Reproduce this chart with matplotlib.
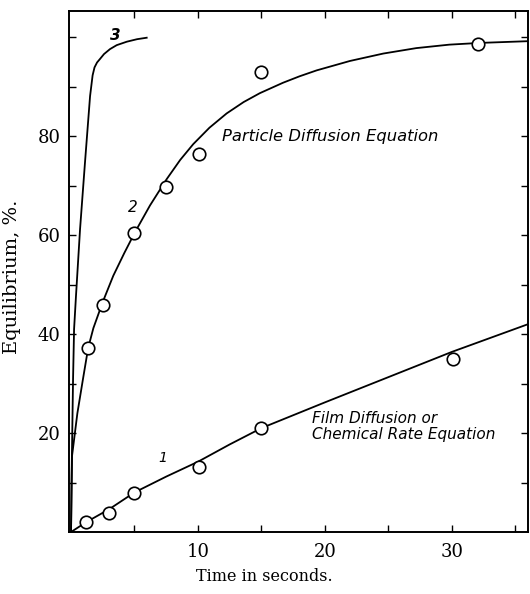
import matplotlib
matplotlib.use("Agg")
import matplotlib.pyplot as plt

# curve 1: film diffusion / chemical rate
t1_line = [0, 1.2, 3, 5, 7.5, 10, 12.5, 15, 20, 25, 30, 36]
e1_line = [0, 2.0, 4.6, 8.0, 11.2, 14.2, 17.7, 21.0, 26.2, 31.3, 36.4, 42.0]
t1_pts = [1.2, 3.0, 5.0, 10.1, 15.0, 30.1]
e1_pts = [2.0, 3.8, 7.9, 13.1, 21.0, 35.0]

# curve 2: particle diffusion
t2_line = [0, 0.04, 0.08, 0.5, 0.94, 1.35, 1.76, 2.5, 3.33, 4.2, 5.04, 6.22,
           7.53, 8.6, 9.63, 10.9, 12.26, 13.6, 14.88, 16.7, 18.0, 19.35,
           21.97, 24.6, 27.2, 29.8, 32.2, 36]
e2_line = [0, 8, 15.4, 24, 30.9, 37.2, 41.2, 46.5, 51.8, 56.4, 60.6, 66.0,
           71.3, 75.2, 78.4, 81.7, 84.6, 86.9, 88.7, 90.8, 92.1, 93.3,
           95.2, 96.7, 97.8, 98.5, 98.85, 99.2]
t2_pts = [1.35, 2.5, 5.0, 7.5, 10.1, 15.0, 32.1]
e2_pts = [37.2, 45.9, 60.4, 69.7, 76.4, 92.9, 98.6]

# curve 3
t3_line = [0, 0.05, 0.16, 0.24, 0.39, 0.71, 1.1, 1.5, 1.7, 1.85, 2.05, 2.28,
           2.6, 3.07, 3.6, 4.4, 5.2, 5.96]
e3_line = [0, 12, 31, 41, 47.7, 61.2, 74.7, 88.1, 92.3, 93.9, 94.9, 95.6,
           96.6, 97.6, 98.4, 99.1, 99.6, 99.9]

plt.rcParams['font.family'] = 'DejaVu Serif'

fig = plt.figure(figsize=(5.3, 5.94), dpi=100)
ax = fig.add_axes([69/530, 1 - 532/594, (528 - 69)/530, (532 - 11)/594])

for t, e in [(t1_line, e1_line), (t2_line, e2_line), (t3_line, e3_line)]:
    ax.plot(t, e, color='black', lw=1.3, solid_joinstyle='round')
ax.plot(t1_pts, e1_pts, 'o', ms=9, mfc='white', mec='black', mew=1.2)
ax.plot(t2_pts, e2_pts, 'o', ms=9, mfc='white', mec='black', mew=1.2)

ax.set_xlim(-0.16, 36)
ax.set_ylim(0, 105.3)

ax.set_xticks([10, 20, 30])
ax.set_xticks([5, 15, 25, 35], minor=True)
ax.set_yticks([20, 40, 60, 80])
ax.set_yticks([10, 30, 50, 70, 90, 100], minor=True)
ax.tick_params(which='both', direction='in', top=True, right=True,
               length=5, width=1.0, labelsize=13)
ax.tick_params(axis='x', pad=8)
ax.tick_params(axis='y', pad=6)
for s in ax.spines.values():
    s.set_linewidth(1.4)

ax.set_xlabel('Time in seconds.', fontsize=11.5)
ax.xaxis.set_label_coords(0.425, -0.07)
ax.set_ylabel('Equilibrium, %.', fontsize=14)
ax.yaxis.set_label_coords(-0.105, 0.49)

lab = dict(family='DejaVu Sans', style='italic', color='black')
ax.text(3.5, 100.4, '3', fontsize=11, fontweight='bold', ha='center', va='center', **lab)
ax.text(4.9, 65.6, '2', fontsize=11, ha='center', va='center', **lab)
ax.text(7.2, 15, '1', fontsize=10, ha='center', va='center', **lab)
ax.text(11.9, 80, 'Particle Diffusion Equation', fontsize=11.8, ha='left', va='center', **lab)
ax.text(19.0, 21.3, 'Film Diffusion or\nChemical Rate Equation', fontsize=11,
        ha='left', va='center', linespacing=1.05, **lab)

fig.savefig('out.png', dpi=100)
